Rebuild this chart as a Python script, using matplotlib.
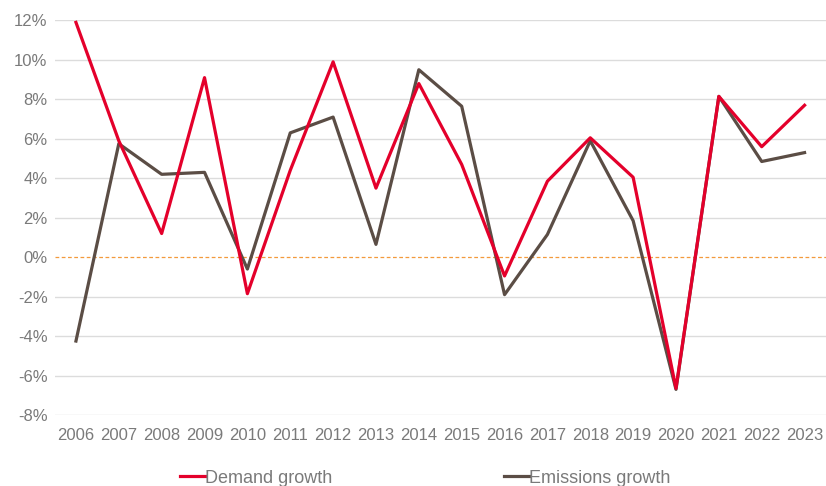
import matplotlib.pyplot as plt
import numpy as np

plt.rcParams['font.family'] = ['Liberation Sans', 'DejaVu Sans']

years = [str(y) for y in range(2006, 2024)]
demand_growth = [11.9, 5.9, 1.2, 9.1, -1.85, 4.4, 9.9, 3.5, 8.8, 4.7,
                 -0.95, 3.85, 6.05, 4.05, -6.65, 8.15, 5.6, 7.7]
emissions_growth = [-4.25, 5.75, 4.2, 4.3, -0.6, 6.3, 7.1, 0.65, 9.5, 7.65,
                    -1.9, 1.15, 5.9, 1.85, -6.7, 8.15, 4.85, 5.3]
y_ticks = [-8, -6, -4, -2, 0, 2, 4, 6, 8, 10, 12]

RED = '#e4002b'
BROWN = '#5b4d45'
GREY_TEXT = '#7a7a7a'

fig = plt.figure(figsize=(8.26, 4.86), dpi=100)
ax = fig.add_axes([0.066, 0.146, 0.934, 0.812])

x = np.arange(len(years))

# gridlines (zero gets its own dashed line)
for t in y_ticks:
    if t == 0:
        ax.axhline(t, color='#f39a3c', lw=0.9, ls=(0, (3, 2)), zorder=1)
    else:
        ax.axhline(t, color='#dcdcdc', lw=1.0, zorder=1)

ax.plot(x, demand_growth, color=RED, lw=2.3, label='Demand growth', zorder=3)
ax.plot(x, emissions_growth, color=BROWN, lw=2.3, label='Emissions growth', zorder=2)

ax.set_xlim(-0.5, len(years) - 0.5)
ax.set_ylim(-8, 12)
ax.set_xticks(x)
ax.set_xticklabels(years)
ax.set_yticks(y_ticks)
ax.set_yticklabels([f'{t}%' for t in y_ticks])
ax.tick_params(axis='both', length=0, labelsize=12, labelcolor=GREY_TEXT)
ax.tick_params(axis='x', pad=9)
ax.tick_params(axis='y', pad=5)
for s in ax.spines.values():
    s.set_visible(False)

fig.legend(loc='lower left', bbox_to_anchor=(0.198, -0.035), ncol=2, frameon=False,
           handlelength=1.4, handletextpad=0.0, columnspacing=9.5,
           fontsize=13, labelcolor=GREY_TEXT)

fig.savefig('out.png', dpi=100)
